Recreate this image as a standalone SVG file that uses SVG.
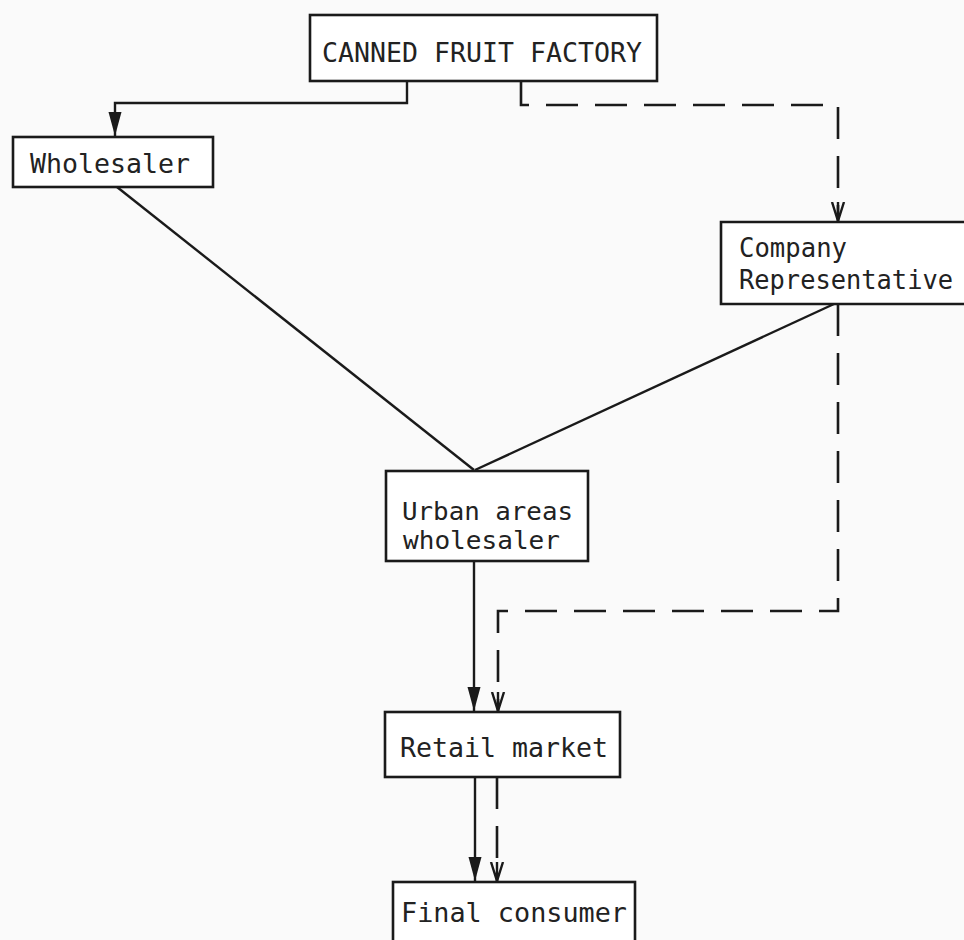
<svg xmlns="http://www.w3.org/2000/svg" width="964" height="940" viewBox="0 0 964 940">
<style>
.box{fill:#fff;stroke:#1a1a1a;stroke-width:2.6}
.t{font-family:"DejaVu Sans Mono","Liberation Mono",monospace;font-size:27px;fill:#222}
.u{font-size:24px}
.c{font-size:26px}
.s{fill:none;stroke:#1a1a1a;stroke-width:2.4}
.d{fill:none;stroke:#1a1a1a;stroke-width:2.6;stroke-dasharray:32 17}
</style>
<defs>
<marker id="fa" markerUnits="userSpaceOnUse" markerWidth="26" markerHeight="18" viewBox="0 0 26 18" refX="24" refY="9" orient="auto">
<path d="M0,2.5 L24,9 L0,15.5 Z" fill="#1a1a1a"/>
</marker>
<marker id="oa" markerUnits="userSpaceOnUse" markerWidth="22" markerHeight="18" viewBox="0 0 22 18" refX="19" refY="9" orient="auto">
<path d="M0,3 L19,9 L0,15 M0,9 L19,9" fill="none" stroke="#1a1a1a" stroke-width="2.4"/>
</marker>
</defs>
<rect width="964" height="940" fill="#fafafa"/>
<g id="connectors">
<path class="s" d="M407,81 V103 H115 V136" marker-end="url(#fa)"/>
<path class="d" d="M521,81 V105 H838 V221" marker-end="url(#oa)"/>
<path class="s" d="M117,187 L474,470"/>
<path class="s" d="M834,304 L475,470"/>
<path class="d" d="M838,304 V611 H498 V711" marker-end="url(#oa)"/>
<path class="s" d="M474,561 V711" marker-end="url(#fa)"/>
<path class="s" d="M475,777 V881" marker-end="url(#fa)"/>
<path class="d" d="M497,777 V881" marker-end="url(#oa)"/>
</g>
<g id="factory">
<rect class="box" x="310" y="15" width="347" height="66"/>
<text class="t" x="322" y="62" textLength="320" lengthAdjust="spacingAndGlyphs">CANNED FRUIT FACTORY</text>
</g>
<g id="wholesaler">
<rect class="box" x="13" y="137" width="200" height="50"/>
<text class="t" x="30" y="173" textLength="160" lengthAdjust="spacingAndGlyphs">Wholesaler</text>
</g>
<g id="company-representative">
<rect x="721" y="222" width="243" height="82" fill="#fff"/>
<path d="M964,222 H721 V304 H964" fill="none" stroke="#1a1a1a" stroke-width="2.6"/>
<text class="t c" x="739" y="257" textLength="108" lengthAdjust="spacingAndGlyphs">Company</text>
<text class="t c" x="739" y="289" textLength="214" lengthAdjust="spacingAndGlyphs">Representative</text>
</g>
<g id="urban-wholesaler">
<rect class="box" x="386" y="471" width="202" height="90"/>
<text class="t u" x="402" y="520" textLength="171" lengthAdjust="spacingAndGlyphs">Urban areas</text>
<text class="t u" x="403" y="549" textLength="157" lengthAdjust="spacingAndGlyphs">wholesaler</text>
</g>
<g id="retail-market">
<rect class="box" x="385" y="712" width="235" height="65"/>
<text class="t" x="400" y="757" textLength="208" lengthAdjust="spacingAndGlyphs">Retail market</text>
</g>
<g id="final-consumer">
<rect class="box" x="393" y="882" width="242" height="70"/>
<text class="t" x="401" y="922" textLength="226" lengthAdjust="spacingAndGlyphs">Final consumer</text>
</g>
</svg>
